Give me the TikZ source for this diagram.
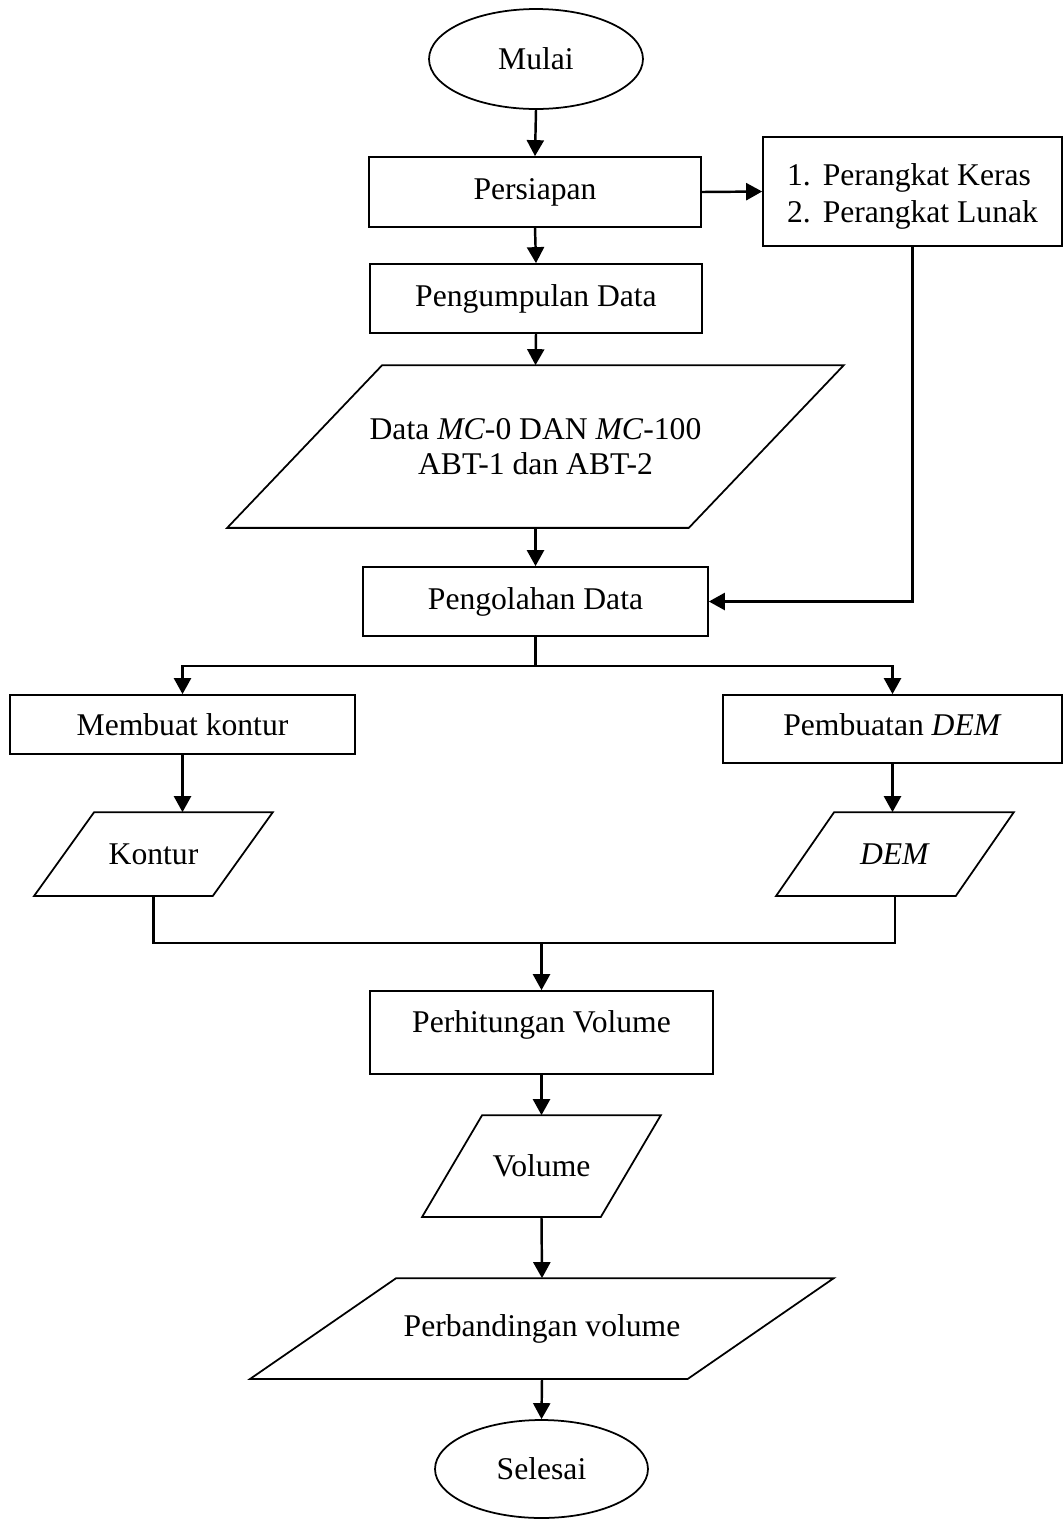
\documentclass[tikz,border=0pt]{standalone}
\usepackage{fontspec}
\setmainfont{Liberation Serif}
\usepackage{tikz}
\usetikzlibrary{
  arrows.meta, positioning, shapes.geometric, calc
}

\begin{document}
\begin{tikzpicture}[
    x=0.02cm, y=-0.02cm,
    base/.style={draw, line width=1pt, font=\fontsize{18}{20}\selectfont, align=center, inner sep=2pt},
    proc/.style={base, rectangle},
    term/.style={base, ellipse, minimum width=4.28cm, minimum height=2cm},
    io/.style={base, rectangle, draw=none},
    slanted/.style={line width=1pt, line join=miter},
    arr/.style={-{Triangle[length=0.32cm, width=0.34cm]}, line width=1.4pt},
    wire/.style={line width=1.4pt},
]
    \useasboundingbox (0,0) rectangle (1063,1519);

    % Start and preparation
    \node[term] (mulai) at (536, 59) {Mulai};
    \node[proc, minimum width=6.64cm, minimum height=1.4cm] (persiapan) at (535, 192) {Persiapan};
    \node[proc, minimum width=5.98cm, minimum height=2.18cm, align=left, text height=1.39cm,
          font=\fontsize{18}{21}\selectfont] (perangkat) at (912.5, 191.5)
        {1.\hspace{0.38em}Perangkat Keras\\2.\hspace{0.38em}Perangkat Lunak};
    \node[proc, minimum width=6.64cm, minimum height=1.38cm] (pengumpulan) at (536, 298.5) {Pengumpulan Data};

    % Input data
    \node[io, minimum width=12.3cm, minimum height=3.22cm] (data) at (535.5, 446.5)
        {Data \textit{MC}-0 DAN \textit{MC}-100\\ABT-1 dan ABT-2};
    \node[proc, minimum width=6.9cm, minimum height=1.38cm] (pengolahan) at (535.5, 601.5) {Pengolahan Data};

    % Two branches
    \node[proc, minimum width=6.9cm, minimum height=1.18cm] (mkontur) at (182.5, 724.5) {Membuat kontur};
    \node[proc, minimum width=6.78cm, minimum height=1.36cm, text depth=0.17cm] (pdem) at (892.5, 729) {Pembuatan \textit{DEM}};
    \node[io, minimum width=4.74cm, minimum height=1.64cm] (kontur) at (153.5, 854) {Kontur};
    \node[io, minimum width=4.72cm, minimum height=1.64cm] (dem) at (895, 854) {\textit{DEM}};

    % Volume
    \node[proc, minimum width=6.86cm, minimum height=1.66cm, text depth=0.42cm] (perhitungan) at (541.5, 1032.5) {Perhitungan Volume};
    \node[io, minimum width=4.74cm, minimum height=2cm] (volume) at (541.5, 1166) {Volume};
    \node[io, minimum width=11.64cm, minimum height=1.98cm] (perbandingan) at (542, 1328.5) {Perbandingan volume};
    \node[term, minimum width=4.26cm, minimum height=1.96cm] (selesai) at (541.5, 1469) {Selesai};

    % Parallelogram outlines
    \foreach \n/\s in {data/155, kontur/60, dem/58, volume/60, perbandingan/146} {
        \draw[slanted] (\n.south west) -- ($(\n.south east)+(-\s,0)$)
            -- (\n.north east) -- ($(\n.north west)+(\s,0)$) -- cycle;
    }

    \coordinate (split) at (535.5, 666);
    \coordinate (join) at (541.5, 943);

    % Connections
    \foreach \a/\b in {mulai/persiapan, persiapan/pengumpulan, pengumpulan/data,
                       data/pengolahan, perhitungan/volume, volume/perbandingan,
                       perbandingan/selesai} {
        \draw[arr] (\a.south) -- (\b.north);
    }
    \draw[arr] (persiapan.east) -- (perangkat.west);
    \draw[arr] (perangkat.south) |- (pengolahan.east);

    \draw[wire] (pengolahan.south) -- (split);
    \draw[arr] (split) -| (mkontur.north);
    \draw[arr] (split) -| (pdem.north);
    \draw[arr] (mkontur.south) -- (mkontur.south |- kontur.north);
    \draw[arr] (pdem.south) -- (pdem.south |- dem.north);

    \draw[wire] (kontur.south) |- (join);
    \draw[wire] (dem.south) |- (join);
    \draw[arr] (join) -- (perhitungan.north);

\end{tikzpicture}
\end{document}
